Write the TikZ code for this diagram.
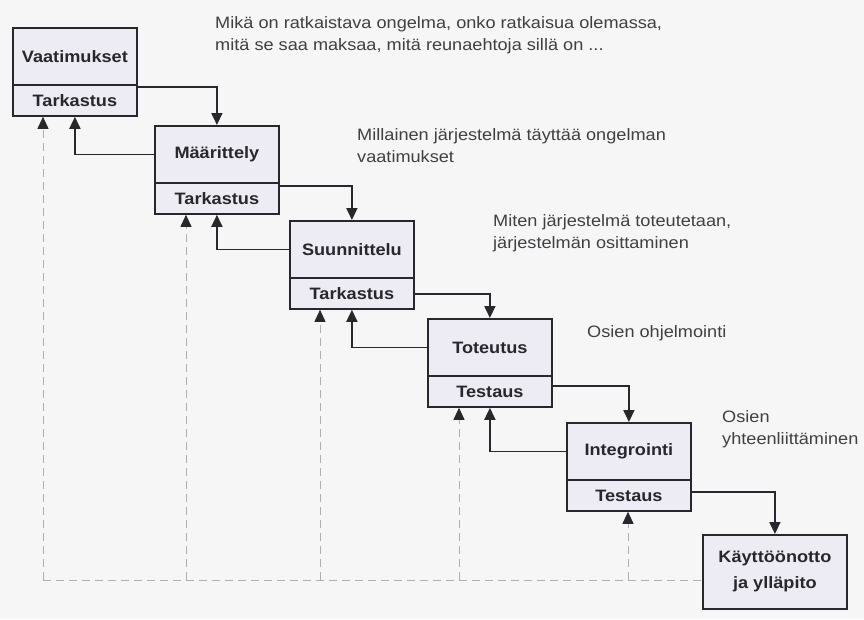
\documentclass[tikz,border=0pt]{standalone}
\usepackage{fontspec}
\setmainfont{Liberation Sans}[FakeStretch=1.1]
\usetikzlibrary{arrows.meta,calc}
\definecolor{paper}{RGB}{246,246,246}
\definecolor{boxfill}{RGB}{237,235,243}
\definecolor{ink}{RGB}{40,40,44}
\definecolor{note}{RGB}{64,64,68}
\definecolor{dash}{RGB}{175,175,175}
\begin{document}
\begin{tikzpicture}[x=1pt,y=-1pt,
  phase/.style={draw=ink,line width=1.8pt,fill=boxfill,minimum width=124pt,
    inner sep=0pt,anchor=north west,font=\fontsize{16.5}{20}\selectfont\bfseries,text=ink},
  upper/.style={phase,minimum height=57pt},
  lower/.style={phase,minimum height=31pt},
  flow/.style={draw=ink,line width=1.8pt,-{Triangle[width=11pt,length=12pt]}},
  review/.style={draw=dash,line width=0.9pt,dash pattern=on 8pt off 5pt},
  reviewup/.style={review,-{Triangle[width=11pt,length=12pt,color=ink]}},
  note/.style={anchor=base west,align=left,inner sep=0pt,text=note,
    font=\fontsize{16.5}{22}\selectfont}]
\useasboundingbox[fill=paper] (0,0) rectangle (864,619);

% phases: upper part with the phase name, lower part with its check
\node[upper] (v)  at (12,27)   {Vaatimukset};
\node[lower] (vt) at (12,84)   {Tarkastus};
\node[upper] (m)  at (154,125) {Määrittely};
\node[lower] (mt) at (154,182) {Tarkastus};
\node[upper] (s)  at (289,220) {Suunnittelu};
\node[lower] (st) at (289,277) {Tarkastus};
\node[upper] (t)  at (427,318) {Toteutus};
\node[lower] (tt) at (427,375) {Testaus};
\node[upper] (i)  at (566,422) {Integrointi};
\node[lower] (it) at (566,479) {Testaus};
\node[phase,minimum width=144pt,minimum height=74pt,align=center,
  font=\fontsize{16.5}{26}\selectfont\bfseries] (k) at (702,534) {Käyttöönotto\\ja ylläpito};

% annotations
\node[note] (n1) at (215,50)  {Mikä on ratkaistava ongelma, onko ratkaisua olemassa,\\mitä se saa maksaa, mitä reunaehtoja sillä on ...};
\node[note] (n2) at (357,162) {Millainen järjestelmä täyttää ongelman\\vaatimukset};
\node[note] (n3) at (493,248) {Miten järjestelmä toteutetaan,\\järjestelmän osittaminen};
\node[note] (n4) at (587,337) {Osien ohjelmointi};
\node[note] (n5) at (722,444) {Osien\\yhteenliittäminen};

% forward flow down the cascade
\draw[flow] ([yshift=-3pt]vt.north east)  -| (m.north);
\draw[flow] ([yshift=-4pt]mt.north east)  -| (s.north);
\draw[flow] ([yshift=-17pt]st.north east) -| (t.north);
\draw[flow] ([yshift=-11pt]tt.north east) -| (i.north);
\draw[flow] ([yshift=-13pt]it.north east) -| (k.north);

% feedback to the previous phase
\draw[flow] (m.west) -| (vt.south);
\draw[flow] (s.west) -| (mt.south);
\draw[flow] (t.west) -| (st.south);
\draw[flow] (i.west) -| (tt.south);

% feedback from operation and maintenance to every phase
\coordinate (d1) at (43,580);
\coordinate (d2) at (186,580);
\coordinate (d3) at (320,580);
\coordinate (d4) at (459,580);
\coordinate (d5) at (628,580);
\draw[review] (d1) -- (d1 -| k.west);
\draw[reviewup] (d1) -- (d1 |- vt.south);
\draw[reviewup] (d2) -- (d2 |- mt.south);
\draw[reviewup] (d3) -- (d3 |- st.south);
\draw[reviewup] (d4) -- (d4 |- tt.south);
\draw[reviewup] (d5) -- (d5 |- it.south);
\end{tikzpicture}
\end{document}
